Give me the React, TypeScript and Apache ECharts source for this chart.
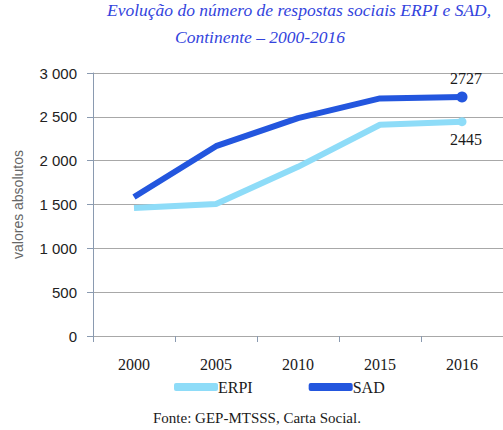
import React, { useEffect, useRef } from "react";
import * as echarts from "echarts";

const categories = ["2000", "2005", "2010", "2015", "2016"];
const erpi = [1460, 1505, 1930, 2410, 2445];
const sad = [1585, 2165, 2485, 2710, 2727];
const yTicks = [0, 500, 1000, 1500, 2000, 2500, 3000];
const titleLines = [
  "Evolução do número de respostas sociais ERPI e SAD,",
  "Continente – 2000-2016",
];
const source = "Fonte: GEP-MTSSS, Carta Social.";

const fmt = (v: number) => {
  const s = String(v);
  return s.length > 3 ? s.slice(0, s.length - 3) + " " + s.slice(-3) : s;
};

export default function App() {
  const ref = useRef<HTMLDivElement>(null);
  useEffect(() => {
    if (!ref.current) return;
    const chart = echarts.init(ref.current, undefined, { renderer: "svg" });
    const last = categories.length - 1;
    const mk = (arr: number[], color: string, pos: string, size: number) =>
      arr.map((v, i) =>
        i === last
          ? {
              value: v,
              symbol: "circle",
              symbolSize: size,
              itemStyle: { color },
              label: {
                show: true,
                position: pos,
                distance: 5,
                offset: [4, 0],
                color: "#1a1a1a",
                fontFamily: "Liberation Serif",
                fontSize: 16,
                formatter: String(v),
              },
            }
          : v
      );
    chart.setOption({
      animation: false,
      grid: { left: 93, right: 0, top: 73, bottom: 94, containLabel: false },
      title: [
        {
          text: titleLines[0],
          left: 107,
          top: 1,
          padding: 0,
          textStyle: {
            fontFamily: "Liberation Serif",
            fontStyle: "italic",
            fontWeight: "normal",
            fontSize: 17.5,
            color: "#3344dd",
          },
        },
        {
          text: titleLines[1],
          left: 175,
          top: 28,
          padding: 0,
          textStyle: {
            fontFamily: "Liberation Serif",
            fontStyle: "italic",
            fontWeight: "normal",
            fontSize: 17.5,
            color: "#3344dd",
          },
        },
        {
          text: source,
          left: 153,
          top: 410,
          padding: 0,
          textStyle: {
            fontFamily: "Liberation Serif",
            fontStyle: "normal",
            fontWeight: "normal",
            fontSize: 15,
            color: "#1a1a1a",
          },
        },
      ],
      legend: {
        bottom: 30,
        left: 169,
        itemWidth: 44,
        itemHeight: 8,
        itemGap: 56,
        icon: "roundRect",
        textStyle: {
          fontFamily: "Liberation Serif",
          fontSize: 16,
          color: "#1a1a1a",
          padding: [0, 0, 0, -5],
        },
        data: ["ERPI", "SAD"],
      },
      xAxis: {
        type: "category",
        data: categories,
        boundaryGap: true,
        axisLine: { show: false },
        axisTick: { show: true, length: 6, inside: false, lineStyle: { color: "#8a9ab0" } },
        axisLabel: {
          margin: 20,
          fontFamily: "Liberation Serif",
          fontSize: 16,
          color: "#1a1a1a",
        },
      },
      yAxis: {
        type: "value",
        min: yTicks[0],
        max: yTicks[yTicks.length - 1],
        interval: 500,
        name: "valores absolutos",
        nameLocation: "middle",
        nameGap: 68,
        nameRotate: 90,
        nameTextStyle: { fontFamily: "Liberation Sans", fontSize: 14, color: "#666" },
        axisLine: { show: true, lineStyle: { color: "#8a9ab0" } },
        axisTick: { show: true, length: 6, lineStyle: { color: "#8a9ab0" } },
        axisLabel: {
          formatter: (v: number) => fmt(v),
          fontFamily: "Liberation Sans",
          fontSize: 15,
          color: "#222",
          margin: 16,
        },
        splitLine: { lineStyle: { color: "#a8a8a8" } },
      },
      series: [
        {
          name: "ERPI",
          type: "line",
          symbol: "none",
          data: mk(erpi, "#8edcf8", "bottom", 9),
          lineStyle: { width: 6, color: "#8edcf8" },
          itemStyle: { color: "#8edcf8" },
        },
        {
          name: "SAD",
          type: "line",
          symbol: "none",
          data: mk(sad, "#2356de", "top", 11),
          lineStyle: { width: 6, color: "#2356de" },
          itemStyle: { color: "#2356de" },
        },
      ],
    });
    return () => chart.dispose();
  }, []);
  return <div ref={ref} style={{ width: 503, height: 430, position: "absolute", left: 0, top: 0 }} />;
}
